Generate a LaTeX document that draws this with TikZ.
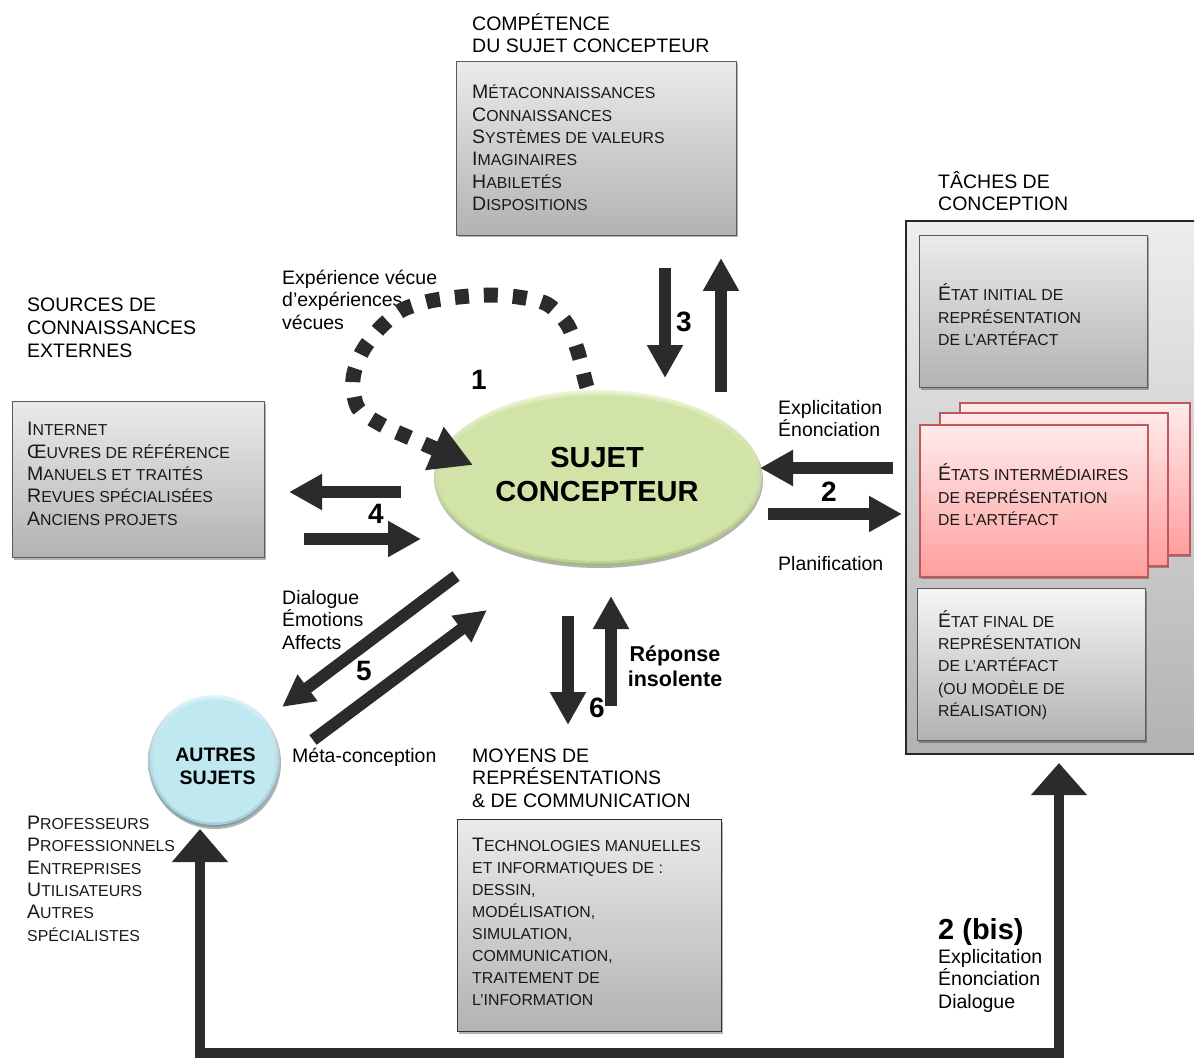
\documentclass[tikz,border=0pt]{standalone}
\usepackage{fontspec}
\setmainfont{Liberation Sans}
\usetikzlibrary{arrows.meta,shapes.geometric,shadows}
\newcommand\bc[1]{{\fontsize{19.5}{22.4}\selectfont #1}}
\newcommand\fl{\rule{0pt}{16pt}}
\definecolor{ink}{HTML}{2B2B2B}
\definecolor{boxedge}{HTML}{5A5A5A}
\definecolor{pinkedge}{HTML}{C0575A}
\definecolor{limefill}{HTML}{D1E3A6}
\definecolor{limemid}{HTML}{BDD092}
\definecolor{limetop}{HTML}{EDF5D2}
\definecolor{limebot}{HTML}{A3B883}
\definecolor{bluefill}{HTML}{BFE8F1}
\definecolor{bluemid}{HTML}{A6CCD6}
\definecolor{bluetop}{HTML}{E2F6FA}
\definecolor{bluebot}{HTML}{7E9AA3}
\tikzset{
  lab/.style={anchor=north west,inner sep=0pt,align=left,text=black,font=\fontsize{19.5}{22.7}\selectfont},
  sc/.style={anchor=north west,inner sep=0pt,align=left,text=black!90,font=\fontsize{15.85}{22.4}\selectfont},
  num/.style={inner sep=0pt,text=black,font=\fontsize{28}{30}\selectfont\bfseries},
  softsh/.style={drop shadow={shadow xshift=1pt,shadow yshift=-2pt,opacity=.3,fill=black}},
  box/.style={anchor=north west,draw=boxedge,line width=1pt,inner sep=0pt,top color=#1,bottom color=black!30,softsh},
  box/.default=black!8,
  pinkbox/.style={anchor=north west,draw=pinkedge,line width=1.6pt,inner sep=0pt,top color=red!8,bottom color=red!38,softsh},
  fat/.style={line width=12pt,draw=ink,-{Triangle[length=33pt,width=34pt]}},
  diag/.style={line width=12pt,draw=ink,-{Triangle[length=32pt,width=31pt]}},
  huge/.style={line width=10.5pt,draw=ink,line join=miter,{Triangle[length=33pt,width=54pt]}-{Triangle[length=32pt,width=54pt]}},
  dotloop/.style={line width=15pt,draw=ink,dash pattern=on 14pt off 15pt,-{Triangle[length=42pt,width=44pt]}},
}
\begin{document}
\begin{tikzpicture}[x=1pt,y=-1pt]
\useasboundingbox (0,0) rectangle (1194,1059);

% Boxes
\node[box,minimum width=280pt,minimum height=174pt] (comp) at (456,61) {};
\node[box,minimum width=252pt,minimum height=156pt] (sources) at (12,401) {};
\node[box,minimum width=264pt,minimum height=212pt,draw=black!80] (moyens) at (457,819) {};
\node[anchor=north west,draw=black!85,line width=2pt,inner sep=0pt,top color=black!7,bottom color=black!30,minimum width=295pt,minimum height=533pt] (taches) at (905,220) {};
\node[box=black!8,minimum width=228pt,minimum height=152pt] (init) at (919,235) {};
\node[pinkbox,minimum width=230pt,minimum height=152pt] (p3) at (959,402) {};
\node[pinkbox,minimum width=228pt,minimum height=153pt] (p2) at (939,412) {};
\node[pinkbox,minimum width=228pt,minimum height=152pt] (p1) at (919,424) {};
\node[box=black!4,minimum width=228pt,minimum height=152pt] (final) at (917,588) {};

% Ellipse and circle
\node[ellipse,minimum width=328pt,minimum height=176pt,inner sep=0pt,top color=limetop,bottom color=limebot,softsh] (sujetbase) at (598,478) {};
\node[ellipse,minimum width=324pt,minimum height=171pt,inner sep=0pt,top color=limetop!60!limefill,bottom color=limemid] (sujetmid) at (598,478) {};
\node[ellipse,minimum width=319pt,minimum height=166pt,inner sep=0pt,fill=limefill] (sujet) at (598,478) {};
\node[align=center,inner sep=0pt,font=\fontsize{29}{33.5}\selectfont\bfseries] (sujettxt) at (597,474.5) {SUJET\\CONCEPTEUR};
\node[circle,minimum size=132pt,inner sep=0pt,top color=bluetop,bottom color=bluebot,softsh] (autresbase) at (214,761) {};
\node[circle,minimum size=128pt,inner sep=0pt,top color=bluetop!60!bluefill,bottom color=bluemid] (autresmid) at (214,761) {};
\node[circle,minimum size=123pt,inner sep=0pt,fill=bluefill] (autres) at (214,761) {};
\node[align=right,inner sep=0pt,font=\fontsize{19.5}{23}\selectfont\bfseries] (autrestxt) at (215.5,766) {AUTRES\\SUJETS};

% Box texts
\node[lab] (hcomp) at (472,13) {\fl COMPÉTENCE\\DU SUJET CONCEPTEUR};
\node[sc] (tcomp) at (472,82.5) {\fl\bc{M}ÉTACONNAISSANCES\\\bc{C}ONNAISSANCES\\\bc{S}YSTÈMES DE VALEURS\\\bc{I}MAGINAIRES\\\bc{H}ABILETÉS\\\bc{D}ISPOSITIONS};
\node[lab] (htach) at (938,171) {\fl TÂCHES DE\\CONCEPTION};
\node[sc] (tinit) at (938,283.5) {\fl\bc{É}TAT INITIAL DE\\REPRÉSENTATION\\DE L’ARTÉFACT};
\node[sc] (tinter) at (938,463.5) {\fl\bc{É}TATS INTERMÉDIAIRES\\DE REPRÉSENTATION\\DE L’ARTÉFACT};
\node[sc] (tfinal) at (938,610) {\fl\bc{É}TAT FINAL DE\\REPRÉSENTATION\\DE L’ARTÉFACT\\(OU MODÈLE DE\\RÉALISATION)};
\node[lab] (hsrc) at (27,295.5) {\fl SOURCES DE\\CONNAISSANCES\\EXTERNES};
\node[sc] (tsrc) at (27,419.5) {\fl\bc{I}NTERNET\\\bc{Œ}UVRES DE RÉFÉRENCE\\\bc{M}ANUELS ET TRAITÉS\\\bc{R}EVUES SPÉCIALISÉES\\\bc{A}NCIENS PROJETS};
\node[lab] (hmoy) at (472,746) {\fl MOYENS DE\\REPRÉSENTATIONS\\\& DE COMMUNICATION};
\node[sc,font=\fontsize{15.85}{22}\selectfont] (tmoy) at (472,835.5) {\fl\bc{T}ECHNOLOGIES MANUELLES\\ET INFORMATIQUES DE :\\DESSIN,\\MODÉLISATION,\\SIMULATION,\\COMMUNICATION,\\TRAITEMENT DE\\L’INFORMATION};
\node[sc] (tprof) at (27,813) {\fl\bc{P}ROFESSEURS\\\bc{P}ROFESSIONNELS\\\bc{E}NTREPRISES\\\bc{U}TILISATEURS\\\bc{A}UTRES\\SPÉCIALISTES};

% Labels
\node[lab] (lexp) at (282,268) {\fl Expérience vécue\\d’expériences\\vécues};
\node[lab] (lexpl) at (778,398) {\fl Explicitation\\Énonciation};
\node[lab] (lplan) at (778,554) {\fl Planification};
\node[lab] (ldial) at (282,588) {\fl Dialogue\\Émotions\\Affects};
\node[lab] (lmeta) at (292,746) {\fl Méta-conception};
\node[lab,align=center,anchor=north,font=\fontsize{21.5}{25}\selectfont\bfseries] (lrep) at (675,645) {\fl Réponse\\insolente};
\node[lab] (lbis) at (938,947) {\fl Explicitation\\Énonciation\\Dialogue};
\node[anchor=base west,inner sep=0pt,font=\fontsize{29}{32}\selectfont\bfseries] (nbis) at (938,939) {2 (bis)};

% Numbers
\node[num] (n1) at (479,380) {1};
\node[num] (n2) at (829,492) {2};
\node[num] (n3) at (684,322) {3};
\node[num] (n4) at (376,514) {4};
\node[num] (n5) at (364,671) {5};
\node[num] (n6) at (597,708) {6};

% Arrow end points
\coordinate (c3a) at (665,268); \coordinate (c3b) at (665,378);
\coordinate (c3c) at (721,392); \coordinate (c3d) at (721,258);
\coordinate (c4a) at (401,492); \coordinate (c4b) at (289,492);
\coordinate (c4c) at (304,539); \coordinate (c4d) at (421,539);
\coordinate (c2a) at (893,468); \coordinate (c2b) at (760,468);
\coordinate (c2c) at (768,514); \coordinate (c2d) at (902,514);
\coordinate (c5a) at (456,576); \coordinate (c5b) at (282,707);
\coordinate (c5c) at (313,740); \coordinate (c5d) at (487,610);
\coordinate (c6a) at (568,616); \coordinate (c6b) at (568,725);
\coordinate (c6c) at (611,706); \coordinate (c6d) at (611,596);
\coordinate (bl) at (200,829); \coordinate (bcl) at (200,1053);
\coordinate (bcr) at (1059,1053); \coordinate (br) at (1059,763);
\coordinate (ds) at (587,387); \coordinate (de) at (473,465);

\draw[fat] (c3a) -- (c3b);
\draw[fat] (c3c) -- (c3d);
\draw[fat] (c4a) -- (c4b);
\draw[fat] (c4c) -- (c4d);
\draw[fat] (c2a) -- (c2b);
\draw[fat] (c2c) -- (c2d);
\draw[diag] (c5a) -- (c5b);
\draw[diag] (c5c) -- (c5d);
\draw[fat] (c6a) -- (c6b);
\draw[fat] (c6c) -- (c6d);
\draw[huge] (bl) -- (bcl) -- (bcr) -- (br);
\draw[dotloop] plot[smooth,tension=.5] coordinates {(ds) (585,380) (578,352) (567,324) (547,304) (518,297) (488,295) (459,297) (430,301) (402,310) (380,328) (362,352) (353,379) (358,408) (382,425) (408,437) (de)};
\end{tikzpicture}
\end{document}
